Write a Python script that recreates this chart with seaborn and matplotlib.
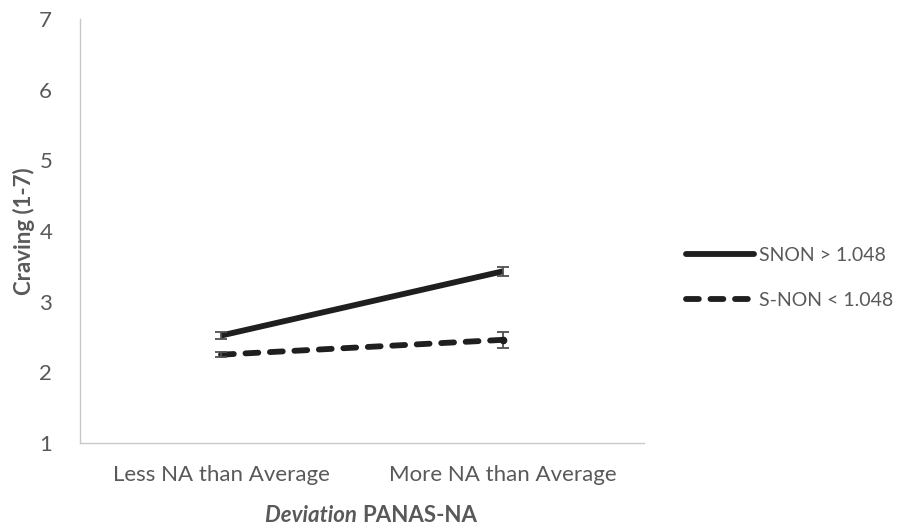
import matplotlib
matplotlib.use("Agg")
import matplotlib.pyplot as plt
from matplotlib.lines import Line2D
import seaborn as sns
import pandas as pd

# Craving by deviation in negative affect, split by S-NON group
categories = ["Less NA than Average", "More NA than Average"]
high_snon = [2.52, 3.43]
high_snon_err = [0.05, 0.06]
low_snon = [2.25, 2.46]
low_snon_err = [0.04, 0.11]
series_names = ["SNON > 1.048", "S-NON < 1.048"]
y_ticks = [1, 2, 3, 4, 5, 6, 7]

sns.set_theme(style="white")
plt.rcParams["font.family"] = ["Lato", "DejaVu Sans"]

text_gray = "#595959"
line_col = "#1f1f1f"
fs = 16
lw = 4.2
dash_pat = (2.2, 2.0)

df = pd.DataFrame({
    "category": categories * 2,
    "craving": high_snon + low_snon,
    "group": [series_names[0]] * 2 + [series_names[1]] * 2,
})

fig = plt.figure(figsize=(9.09, 5.31), dpi=100)
ax = fig.add_axes([80 / 909, 1 - 443 / 531, (644 - 80) / 909, (443 - 19) / 531])

sns.lineplot(
    data=df, x="category", y="craving", style="group",
    style_order=series_names,
    dashes={series_names[0]: "", series_names[1]: dash_pat},
    color=line_col, linewidth=lw, legend=False, ax=ax, sort=False,
)
for ln in ax.lines:
    ln.set_dash_capstyle("round")
    ln.set_solid_capstyle("butt")

x_pos = list(range(len(categories)))
for vals, errs in [(high_snon, high_snon_err), (low_snon, low_snon_err)]:
    ax.errorbar(x_pos, vals, yerr=errs, fmt="none", ecolor="#505050",
                elinewidth=1.3, capsize=4.5, capthick=1.3, zorder=5)
ax.plot([1], [low_snon[1]], "o", color=line_col, markersize=4.5, zorder=6)

ax.set_xlim(-0.5, 1.5)
ax.set_ylim(1, 7)
ax.set_yticks(y_ticks)
ax.set_xticks(x_pos)
ax.set_xticklabels(categories)
ax.tick_params(axis="both", length=0, labelsize=fs, labelcolor=text_gray)
ax.tick_params(axis="y", pad=20)
ax.tick_params(axis="x", pad=16)

for side in ["top", "right"]:
    ax.spines[side].set_visible(False)
for side in ["left", "bottom"]:
    ax.spines[side].set_color("#c8c8c8")
    ax.spines[side].set_linewidth(1.0)

ax.set_ylabel("Craving (1-7)", fontsize=fs, fontweight="bold",
              color=text_gray, labelpad=3)
ax.set_xlabel("")

# x-axis title: italic bold word followed by bold word
fig.text(362 / 909, 1 - 522 / 531, "Deviation ", ha="right", va="baseline",
         fontsize=fs, fontweight="bold", fontstyle="italic", color=text_gray)
fig.text(362 / 909, 1 - 522 / 531, "PANAS-NA", ha="left", va="baseline",
         fontsize=fs, fontweight="bold", color=text_gray)

handles = [
    Line2D([], [], color=line_col, linewidth=lw, solid_capstyle="round"),
    Line2D([], [], color=line_col, linewidth=lw, dashes=dash_pat,
           dash_capstyle="round"),
]
leg = fig.legend(handles, series_names, loc="center left",
                 bbox_to_anchor=(686 / 909, 1 - 278 / 531), frameon=False,
                 borderpad=0, borderaxespad=0,
                 handlelength=3.5, handletextpad=0.25, labelspacing=1.45,
                 fontsize=14)
for t in leg.get_texts():
    t.set_color(text_gray)

fig.savefig("out.png", dpi=100)
